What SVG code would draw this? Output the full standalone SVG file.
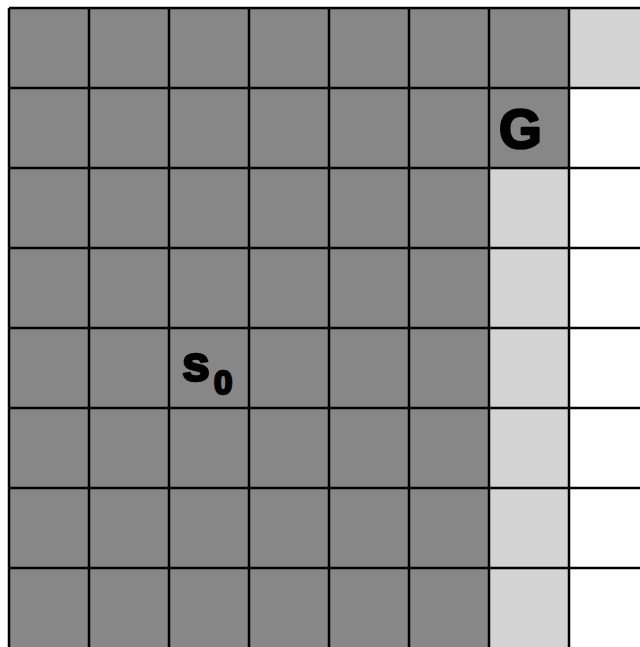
<svg xmlns="http://www.w3.org/2000/svg" width="640" height="647" viewBox="0 0 640 647">
<style>
.d{fill:#878787}
.l{fill:#d3d3d3}
.g{stroke:#000;stroke-width:2.5;fill:none}
.t{font-family:"Liberation Sans",Arial,sans-serif;font-weight:bold;fill:#000;stroke:#000;stroke-width:2.5;stroke-linejoin:round}
</style>
<rect width="640" height="647" fill="#fff"/>
<g id="cells">
<rect class="d" x="9" y="8" width="480" height="640"/>
<rect class="d" x="489" y="8" width="80" height="160"/>
<rect class="l" x="489" y="168" width="80" height="480"/>
<rect class="l" x="569" y="8" width="71" height="80"/>
</g>
<g id="grid" class="g">
<path d="M9 8V648M89 8V648M169 8V648M249 8V648M329 8V648M409 8V648M489 8V648M569 8V648"/>
<path d="M9 8H640M9 88H640M9 168H640M9 248H640M9 328H640M9 408H640M9 488H640M9 568H640"/>
</g>
<g id="goal"><text class="t" x="499" y="148" font-size="55">G</text></g>
<g id="start"><text class="t" x="182" y="381" font-size="50">s</text><text class="t" x="214" y="394" font-size="33">0</text></g>
</svg>
